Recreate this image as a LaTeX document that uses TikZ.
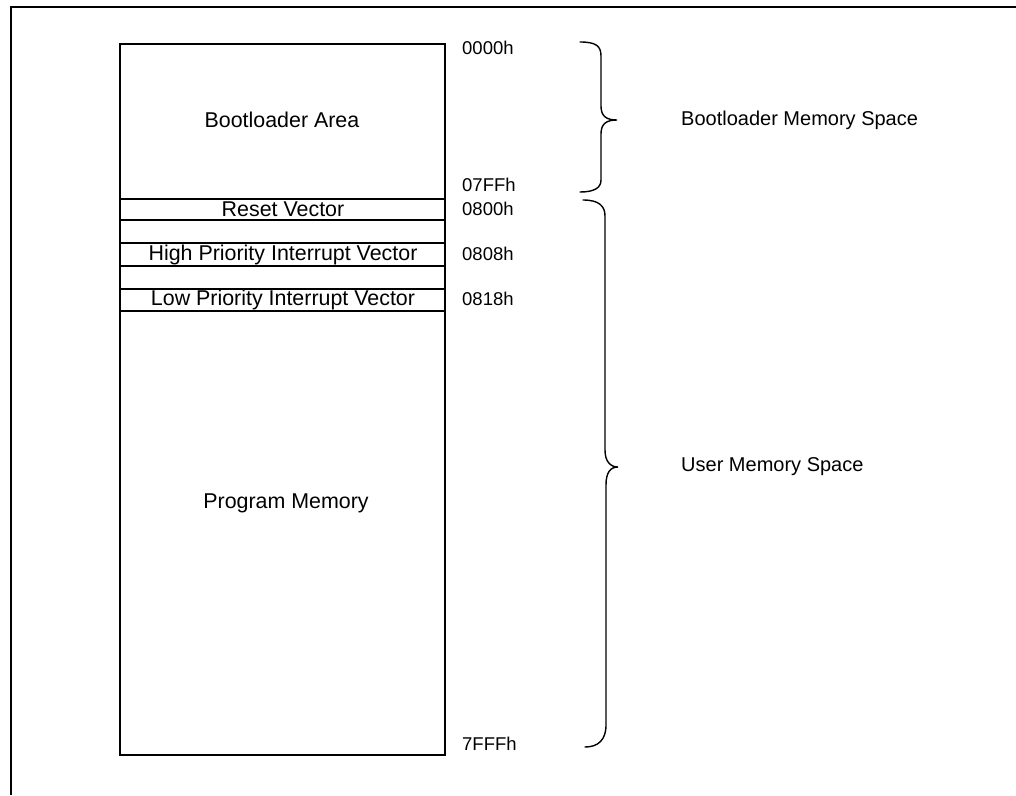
\documentclass[tikz,border=0pt]{standalone}
\usepackage{fontspec}
\setmainfont{Liberation Sans}
\begin{document}
\begin{tikzpicture}[x=1pt,y=-1pt,
  box/.style={draw=black,line width=2pt},
  lbl/.style={font=\fontsize{21.4}{23}\selectfont,inner sep=0pt},
  addr/.style={font=\fontsize{18.5}{21}\selectfont,inner sep=0pt,anchor=west},
  side/.style={font=\fontsize{20}{22}\selectfont,inner sep=0pt,anchor=west},
  brace/.style={draw=black,line width=1.4pt,line cap=round}]
\useasboundingbox (0,0) rectangle (1016,795);
% outer frame (partly visible)
\draw[line width=2pt] (1016,7) -- (11,7) -- (11,795);
% main memory column
\draw[box] (120,44) rectangle (445,755);
\draw[box] (120,199) -- (445,199);
\draw[box] (120,220) -- (445,220);
\draw[box] (120,243) -- (445,243);
\draw[box] (120,266) -- (445,266);
\draw[box] (120,289) -- (445,289);
\draw[box] (120,311) -- (445,311);
\node[lbl] (boot) at (282,120) {Bootloader Area};
\node[lbl] (reset) at (283,209.5) {Reset Vector};
\node[lbl] (high) at (283,254.5) {High Priority Interrupt Vector};
\node[lbl] (low) at (283,300) {Low Priority Interrupt Vector};
\node[lbl] (prog) at (286,503) {Program Memory};
% addresses
\node[addr] (a0) at (462,48) {0000h};
\node[addr] (a1) at (462,185) {07FFh};
\node[addr] (a2) at (462,209) {0800h};
\node[addr] (a3) at (462,254) {0808h};
\node[addr] (a4) at (462,299) {0818h};
\node[addr] (a5) at (462,744) {7FFFh};
% braces
\draw[brace] (580,42) .. controls (596,42) and (601,46) .. (601,56)
  -- (601,106) .. controls (601,116) and (606,120) .. (617,120)
  .. controls (606,120) and (601,124) .. (601,134)
  -- (601,180) .. controls (601,188) and (594,192) .. (580,192);
\draw[brace] (583,200) .. controls (599,200) and (605,206) .. (605,216)
  -- (605,450) .. controls (605,461) and (610,467) .. (618,467)
  .. controls (610,467) and (606,473) .. (606,485)
  -- (606,725) .. controls (606,740) and (598,747) .. (585,747);
\node[side] (s1) at (681,120) {Bootloader Memory Space};
\node[side] (s2) at (681,467) {User Memory Space};
\end{tikzpicture}
\end{document}
